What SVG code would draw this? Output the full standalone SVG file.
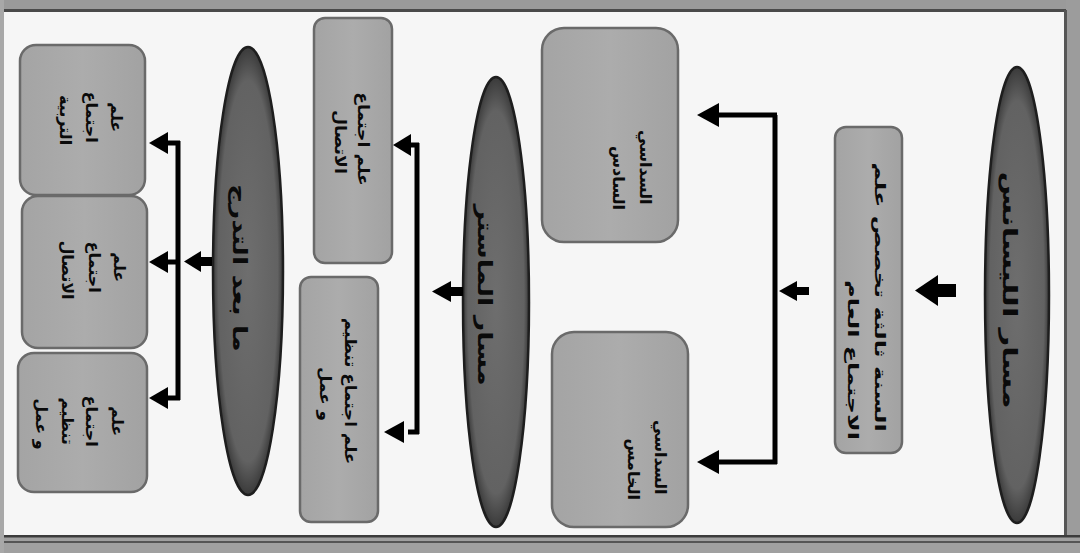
<svg xmlns="http://www.w3.org/2000/svg" width="1080" height="553" viewBox="0 0 1080 553">
  <defs>
    <radialGradient id="ellGrad" cx="50%" cy="50%" r="50%">
      <stop offset="0" stop-color="#6e6e6e"/>
      <stop offset="0.85" stop-color="#626262"/>
      <stop offset="1" stop-color="#3a3a3a"/>
    </radialGradient>
    <linearGradient id="boxGrad" x1="0" y1="0" x2="1" y2="0">
      <stop offset="0" stop-color="#a4a4a4"/>
      <stop offset="0.5" stop-color="#acacac"/>
      <stop offset="1" stop-color="#a2a2a2"/>
    </linearGradient>
  </defs>
  <style>
    .ell { fill: url(#ellGrad); stroke: #1e1e1e; stroke-width: 2.5; }
    .box { fill: url(#boxGrad); stroke: #6a6a6a; stroke-width: 2.5; }
    .lbl { font-family: "DejaVu Sans", "Noto Sans", sans-serif; font-weight: bold; fill: #0a0a0a; }
    .big { font-size: 20px; }
    .mid { font-size: 16px; }
    .sml { font-size: 14.5px; }
    .line { stroke: #000; stroke-width: 5; fill: none; }
    .head { fill: #000; }
  </style>

  <!-- page and scan border -->
  <rect x="0" y="0" width="1080" height="553" fill="#f6f6f6"/>
  <rect x="0" y="0" width="1080" height="10" fill="#9a9a9a"/>
  <rect x="0" y="9" width="1080" height="3" fill="#4a4a4a"/>
  <rect x="1066" y="0" width="14" height="553" fill="#9c9c9c"/>
  <rect x="1064" y="10" width="3" height="530" fill="#555"/>
  <rect x="0" y="536" width="1080" height="17" fill="#a0a0a0"/>
  <rect x="0" y="535" width="1080" height="2.5" fill="#3c3c3c"/>
  <rect x="0" y="541" width="1080" height="2" fill="#555"/>
  <rect x="0" y="0" width="4" height="553" fill="#a8a8a8"/>

  <!-- licence track -->
  <g id="node-licence">
    <ellipse class="ell" cx="1017" cy="295" rx="32" ry="228"/>
    <text class="lbl big" transform="translate(1010,290) rotate(90) scale(1.55,1)" text-anchor="middle" y="7">مسار الليسانس</text>
  </g>

  <g id="node-third-year">
    <rect class="box" x="835" y="127" width="67" height="326" rx="11"/>
    <text class="lbl sml" transform="translate(875,440) rotate(90) scale(1.65,1)" text-anchor="end">
      <tspan x="0" y="0">السنة ثالثة تخصص علم</tspan>
      <tspan x="0" y="27">الاجتماع العام</tspan>
    </text>
  </g>

  <g id="node-semester-6">
    <rect class="box" x="542" y="28" width="136" height="214" rx="22"/>
    <text class="lbl mid" transform="translate(640,210) rotate(90)" text-anchor="end">
      <tspan x="0" y="0">السداسي</tspan>
      <tspan x="0" y="27">السادس</tspan>
    </text>
  </g>

  <g id="node-semester-5">
    <rect class="box" x="552" y="332" width="136" height="195" rx="22"/>
    <text class="lbl mid" transform="translate(655,500) rotate(90)" text-anchor="end">
      <tspan x="0" y="0">السداسي</tspan>
      <tspan x="0" y="27">الخامس</tspan>
    </text>
  </g>

  <!-- master track -->
  <g id="node-master">
    <ellipse class="ell" cx="496" cy="302" rx="33" ry="225"/>
    <text class="lbl big" transform="translate(485,295) rotate(90) scale(1.35,1)" text-anchor="middle" y="7">مسار الماستر</text>
  </g>

  <g id="node-master-communication">
    <rect class="box" x="314" y="18" width="78" height="245" rx="11"/>
    <text class="lbl mid" transform="translate(358,142) rotate(90) scale(1.08,1)" text-anchor="middle">
      <tspan x="0" y="0">علم اجتماع</tspan>
      <tspan x="0" y="23">الاتصال</tspan>
    </text>
  </g>

  <g id="node-master-organisation">
    <rect class="box" x="300" y="277" width="78" height="245" rx="11"/>
    <text class="lbl mid" transform="translate(345,394) rotate(90) scale(1.05,1)" text-anchor="middle">
      <tspan x="0" y="0">علم اجتماع تنظيم</tspan>
      <tspan x="0" y="25">و عمل</tspan>
    </text>
  </g>

  <!-- post-graduation track -->
  <g id="node-postgrad">
    <ellipse class="ell" cx="248" cy="271" rx="35" ry="224"/>
    <text class="lbl big" transform="translate(240,268) rotate(90) scale(1.35,1)" text-anchor="middle" y="7">ما بعد التدرج</text>
  </g>

  <g id="node-pg-education">
    <rect class="box" x="20" y="45" width="125" height="150" rx="16"/>
    <text class="lbl mid" transform="translate(111,120) rotate(90)" text-anchor="middle">
      <tspan x="0" y="0">علم</tspan>
      <tspan x="0" y="25">اجتماع</tspan>
      <tspan x="0" y="51">التربية</tspan>
    </text>
  </g>

  <g id="node-pg-communication">
    <rect class="box" x="22" y="196" width="125" height="152" rx="16"/>
    <text class="lbl mid" transform="translate(114,270) rotate(90)" text-anchor="middle">
      <tspan x="0" y="0">علم</tspan>
      <tspan x="0" y="25">اجتماع</tspan>
      <tspan x="0" y="52">الاتصال</tspan>
    </text>
  </g>

  <g id="node-pg-organisation">
    <rect class="box" x="18" y="353" width="129" height="139" rx="16"/>
    <text class="lbl mid" transform="translate(112,424) rotate(90)" text-anchor="middle">
      <tspan x="0" y="0">علم</tspan>
      <tspan x="0" y="26">اجتماع</tspan>
      <tspan x="0" y="50">تنظيم</tspan>
      <tspan x="0" y="76">و عمل</tspan>
    </text>
  </g>

  <!-- connectors -->
  <g id="connectors">
    <!-- licence -> third year -->
    <rect class="head" x="936" y="284" width="20" height="13"/>
    <polygon class="head" points="915,290.5 938,275 938,306"/>
    <!-- third year -> semesters -->
    <rect class="head" x="795" y="287" width="14" height="8"/>
    <polygon class="head" points="779,291 797,281 797,301"/>
    <path class="line" d="M775,115 V464"/>
    <path class="line" d="M777,115 H716 M777,462 H716"/>
    <polygon class="head" points="697,115 719,103 719,127"/>
    <polygon class="head" points="697,462 719,450 719,474"/>
    <!-- master -> specialities -->
    <rect class="head" x="449" y="287" width="14" height="9"/>
    <polygon class="head" points="432,291.5 451,281 451,302"/>
    <path class="line" d="M417,143 V434"/>
    <path class="line" d="M419,145 H408 M419,432 H408"/>
    <polygon class="head" points="393,145 411,134 411,156"/>
    <polygon class="head" points="384,432 404,421 404,443"/>
    <!-- post-graduation -> specialities -->
    <rect class="head" x="198" y="257" width="14" height="9"/>
    <polygon class="head" points="184,261.5 201,251 201,272"/>
    <path class="line" d="M178,141 V400"/>
    <path class="line" d="M180,143 H166 M180,262 H166 M180,398 H166"/>
    <polygon class="head" points="149,143 168,132 168,154"/>
    <polygon class="head" points="149,262 168,251 168,273"/>
    <polygon class="head" points="149,398 168,387 168,409"/>
  </g>
</svg>
